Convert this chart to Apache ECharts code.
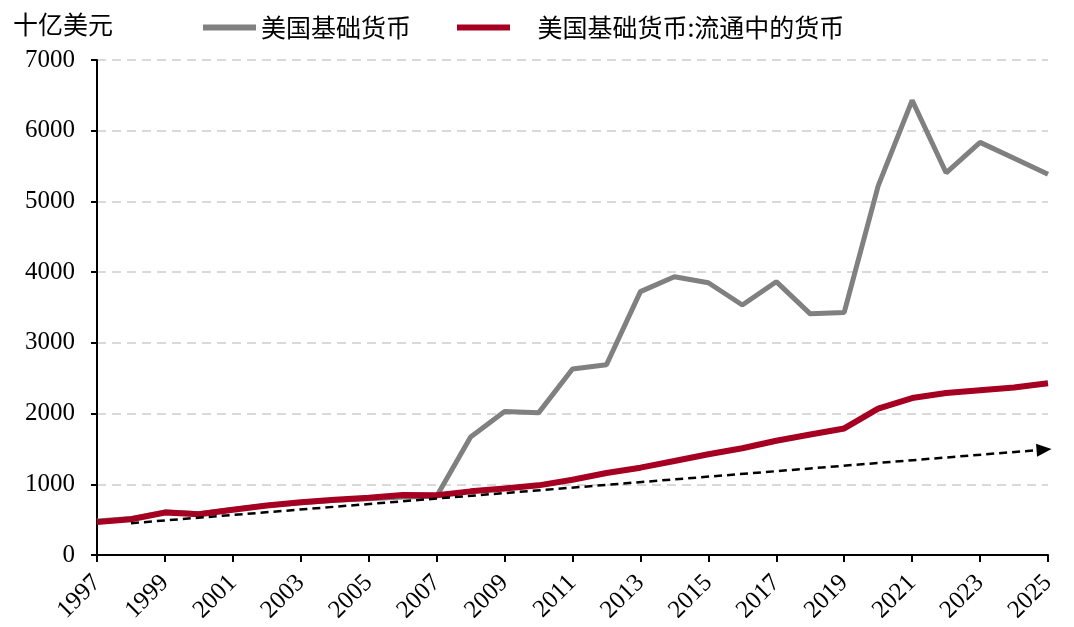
<!DOCTYPE html>
<html>
<head>
<meta charset="utf-8">
<script src="https://cdn.jsdelivr.net/npm/echarts@6/dist/echarts.min.js"></script>
<style>
  html, body { margin: 0; padding: 0; background: #fff; }
  #main { width: 1074px; height: 627px; }
</style>
</head>
<body>
<div id="main"></div>
<script>
// years on the x axis
const years = ['1997','1998','1999','2000','2001','2002','2003','2004','2005','2006',
  '2007','2008','2009','2010','2011','2012','2013','2014','2015','2016',
  '2017','2018','2019','2020','2021','2022','2023','2024','2025'];

// monetary base, billion USD
const baseMoney = [480, 515, 610, 585, 645, 700, 740, 775, 795, 820,
  830, 1670, 2030, 2010, 2630, 2690, 3725, 3935, 3850, 3535,
  3865, 3410, 3430, 5220, 6430, 5405, 5835, 5610, 5385];

// currency in circulation, billion USD
const currency = [465, 505, 600, 575, 640, 700, 745, 780, 810, 850,
  845, 900, 940, 985, 1065, 1160, 1235, 1330, 1425, 1510,
  1615, 1705, 1790, 2070, 2220, 2290, 2330, 2370, 2430];

// dashed trend arrow
const trendStart = ['1998', 450];
const trendEnd = ['2025', 1495];

const yTicks = { min: 0, max: 7000, interval: 1000 };

const serif = 'Liberation Serif, "Noto Sans CJK SC", serif';
const cjk = '"Noto Sans CJK SC", Liberation Serif, serif';

const myChart = echarts.init(document.getElementById('main'));
myChart.setOption({
  animation: false,
  backgroundColor: '#fff',
  grid: { left: 97, right: 26, top: 60, bottom: 72 },
  title: {
    text: '十亿美元',
    left: 8,
    top: 7,
    textStyle: { fontFamily: cjk, fontSize: 25, fontWeight: 'normal', color: '#000' }
  },
  legend: {
    left: 198,
    top: 10,
    itemWidth: 53,
    itemHeight: 6,
    itemGap: 46,
    icon: 'rect',
    textStyle: { fontFamily: cjk, fontSize: 25, color: '#000' },
    formatter: function (name) {
      return name === '美国基础货币' ? name : '    ' + name;
    },
    data: ['美国基础货币', '美国基础货币:流通中的货币']
  },
  xAxis: {
    type: 'category',
    data: years,
    boundaryGap: false,
    axisLine: { lineStyle: { color: '#000', width: 2 } },
    axisTick: { interval: 1, length: 7, lineStyle: { color: '#000', width: 2 } },
    axisLabel: {
      interval: 1,
      rotate: 45,
      margin: 24,
      fontFamily: serif,
      fontSize: 25,
      color: '#000'
    },
    splitLine: { show: false }
  },
  yAxis: {
    type: 'value',
    min: yTicks.min,
    max: yTicks.max,
    interval: yTicks.interval,
    axisLine: { show: true, lineStyle: { color: '#000', width: 2 } },
    axisTick: { show: true, length: 6, lineStyle: { color: '#000', width: 2 } },
    axisLabel: {
      margin: 22,
      fontFamily: serif,
      fontSize: 25,
      color: '#000',
      formatter: function (v) { return String(v); }
    },
    splitLine: { lineStyle: { color: '#d9d9d9', width: 2, type: [9, 6] } }
  },
  series: [
    {
      name: '美国基础货币',
      type: 'line',
      data: baseMoney,
      symbol: 'none',
      itemStyle: { color: '#808080' },
      lineStyle: { color: '#808080', width: 5 },
      z: 2
    },
    {
      name: '美国基础货币:流通中的货币',
      type: 'line',
      data: currency,
      symbol: 'none',
      itemStyle: { color: '#a50021' },
      lineStyle: { color: '#a50021', width: 6 },
      z: 3
    },
    {
      name: 'trend',
      type: 'line',
      data: [],
      symbol: 'none',
      z: 5,
      markLine: {
        silent: true,
        animation: false,
        label: { show: false },
        lineStyle: { color: '#000', width: 2.5, type: [8, 5] },
        data: [[
          { coord: trendStart, symbol: 'none' },
          { coord: trendEnd, symbol: 'triangle', symbolSize: [13, 15], symbolOffset: [0, 4] }
        ]]
      }
    }
  ]
});
</script>
</body>
</html>
